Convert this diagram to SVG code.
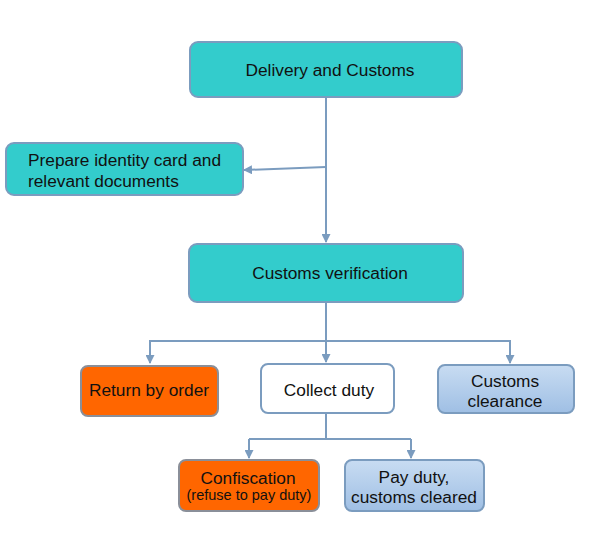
<svg xmlns="http://www.w3.org/2000/svg" width="592" height="550" viewBox="0 0 592 550">
<style>
.box{stroke:#7b9cbf;stroke-width:2}
.teal{fill:#33cccc}
.org{fill:#ff6600;stroke:#8a8f99}
.wht{fill:#ffffff}
.blu{fill:url(#bg)}
text{font-family:"Liberation Sans",Arial,sans-serif;font-size:17.3px;fill:#111}
.c{text-anchor:middle}
.s{font-size:14.5px}
.ln{fill:none;stroke:#7b9cbf;stroke-width:2}
</style>
<defs>
<linearGradient id="bg" x1="0" y1="0" x2="0" y2="1">
<stop offset="0" stop-color="#c8dcf2"/>
<stop offset="1" stop-color="#9fbfe4"/>
</linearGradient>
<marker id="ah" markerWidth="9" markerHeight="9" refX="8" refY="4.5" orient="auto" markerUnits="userSpaceOnUse">
<path d="M0,0 L9,4.5 L0,9 Z" fill="#7b9cbf"/>
</marker>
</defs>
<g id="connectors">
<path class="ln" d="M326,97 V242" marker-end="url(#ah)"/>
<path class="ln" d="M326,167 L244,170" marker-end="url(#ah)"/>
<path class="ln" d="M326,302 V362"  marker-end="url(#ah)"/>
<path class="ln" d="M150,362 V341 H510 V362"/>
<path class="ln" d="M150,341 V363" marker-end="url(#ah)"/>
<path class="ln" d="M510,341 V363" marker-end="url(#ah)"/>
<path class="ln" d="M326,413 V439"/>
<path class="ln" d="M249,439 H411"/>
<path class="ln" d="M249,439 V458" marker-end="url(#ah)"/>
<path class="ln" d="M411,439 V458" marker-end="url(#ah)"/>
</g>
<g id="delivery">
<rect class="box teal" x="190" y="42" width="272" height="55" rx="8"/>
<text class="c" x="330" y="76">Delivery and Customs</text>
</g>
<g id="prepare">
<rect class="box teal" x="6" y="143" width="237" height="52" rx="8"/>
<text x="28" y="166">Prepare identity card and</text>
<text x="28" y="186.5">relevant documents</text>
</g>
<g id="verification">
<rect class="box teal" x="189" y="244" width="274" height="58" rx="8"/>
<text class="c" x="330" y="279">Customs verification</text>
</g>
<g id="return">
<rect class="box org" x="81" y="366" width="137" height="50" rx="7"/>
<text class="c" x="149" y="396">Return by order</text>
</g>
<g id="collect">
<rect class="box wht" x="261" y="364" width="133" height="49" rx="7"/>
<text class="c" x="329" y="396">Collect duty</text>
</g>
<g id="clearance">
<rect class="box blu" x="438" y="365" width="136" height="48" rx="7"/>
<text class="c" x="505" y="387">Customs</text>
<text class="c" x="505" y="407">clearance</text>
</g>
<g id="confiscation">
<rect class="box org" x="179" y="460" width="140" height="51" rx="7"/>
<text class="c" x="248" y="483.5">Confiscation</text>
<text class="c s" x="249" y="500">(refuse to pay duty)</text>
</g>
<g id="payduty">
<rect class="box blu" x="345" y="460" width="139" height="51" rx="7"/>
<text class="c" x="414" y="483">Pay duty,</text>
<text class="c" x="414" y="503">customs cleared</text>
</g>
</svg>
